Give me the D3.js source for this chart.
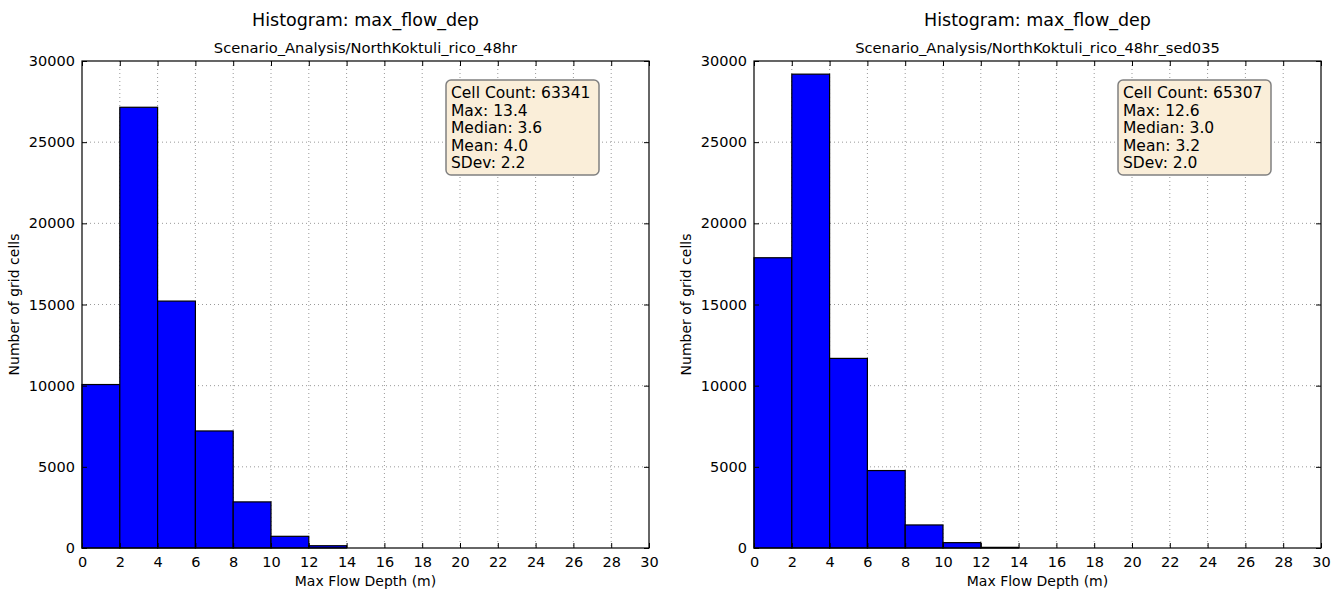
<!DOCTYPE html>
<html>
<head>
<meta charset="utf-8">
<script src="https://cdn.jsdelivr.net/npm/d3@7"></script>
<style>
  body { margin: 0; background: #fff; }
  text { font-family: "DejaVu Sans", sans-serif; fill: #000; }
</style>
</head>
<body>
<div id="chart"></div>
<script>
// histogram bins (m) and counts
var binEdges = [0, 2, 4, 6, 8, 10, 12, 14];
var countsLeft = [10070, 27150, 15210, 7210, 2840, 720, 140];
var countsRight = [17880, 29190, 11680, 4770, 1420, 330, 40];

var xTicks = [0, 2, 4, 6, 8, 10, 12, 14, 16, 18, 20, 22, 24, 26, 28, 30];
var yTicks = [0, 5000, 10000, 15000, 20000, 25000, 30000];

var titles = ["Histogram: max_flow_dep", "Histogram: max_flow_dep"];
var subtitles = ["Scenario_Analysis/NorthKoktuli_rico_48hr", "Scenario_Analysis/NorthKoktuli_rico_48hr_sed035"];
var statsLeft = ["Cell Count: 63341", "Max: 13.4", "Median: 3.6", "Mean: 4.0", "SDev: 2.2"];
var statsRight = ["Cell Count: 65307", "Max: 12.6", "Median: 3.0", "Mean: 3.2", "SDev: 2.0"];

var width = 1340,
    height = 591;

var svg = d3.select("#chart")
    .append("svg")
    .attr("width", width)
    .attr("height", height)

var plotTop = 61, plotBottom = 548;

function drawPanel(left, right, counts, title, subtitle, stats) {
    var x = d3.scaleLinear().domain([0, 30]).range([left, right])
    var y = d3.scaleLinear().domain([0, 30000]).range([plotBottom, plotTop])

    var g = svg.append("g")

    // dotted grid
    g.selectAll(".gx")
        .data(xTicks.slice(1, -1))
        .enter().append("line")
        .attr("x1", function(d) { return x(d) })
        .attr("x2", function(d) { return x(d) })
        .attr("y1", plotTop)
        .attr("y2", plotBottom)
        .attr("stroke", "#999")
        .attr("stroke-width", 1)
        .attr("stroke-dasharray", "1,3")

    g.selectAll(".gy")
        .data(yTicks.slice(1, -1))
        .enter().append("line")
        .attr("x1", left)
        .attr("x2", right)
        .attr("y1", function(d) { return y(d) })
        .attr("y2", function(d) { return y(d) })
        .attr("stroke", "#999")
        .attr("stroke-width", 1)
        .attr("stroke-dasharray", "1,3")

    // bars
    g.selectAll(".bar")
        .data(counts)
        .enter().append("rect")
        .attr("x", function(d, i) { return x(binEdges[i]) })
        .attr("width", function(d, i) { return x(binEdges[i + 1]) - x(binEdges[i]) })
        .attr("y", function(d) { return y(d) })
        .attr("height", function(d) { return plotBottom - y(d) })
        .attr("fill", "#0000ff")
        .attr("stroke", "#000")
        .attr("stroke-width", 1.2)

    // axes, ticks pointing inward like matplotlib classic
    g.append("g").attr("transform", "translate(0," + plotBottom + ")")
        .call(d3.axisBottom(x).tickValues(xTicks).tickSizeInner(-5).tickSizeOuter(0).tickPadding(9))
    g.append("g").attr("transform", "translate(0," + plotTop + ")")
        .call(d3.axisTop(x).tickValues(xTicks).tickSizeInner(-5).tickSizeOuter(0).tickFormat(""))
    g.append("g").attr("transform", "translate(" + left + ",0)")
        .call(d3.axisLeft(y).tickValues(yTicks).tickSizeInner(-5).tickSizeOuter(0).tickPadding(7).tickFormat(d3.format("d")))
    g.append("g").attr("transform", "translate(" + right + ",0)")
        .call(d3.axisRight(y).tickValues(yTicks).tickSizeInner(-5).tickSizeOuter(0).tickFormat(""))

    g.selectAll(".domain").remove()
    g.selectAll(".tick line").attr("stroke", "#000")
    g.selectAll(".tick text")
        .style("font-family", "DejaVu Sans")
        .style("font-size", "14.5px")
        .attr("fill", "#000")

    g.append("rect")
        .attr("x", left)
        .attr("y", plotTop)
        .attr("width", right - left)
        .attr("height", plotBottom - plotTop)
        .attr("fill", "none")
        .attr("stroke", "#000")
        .attr("stroke-width", 1.2)

    var mid = (left + right) / 2

    g.append("text")
        .attr("x", mid)
        .attr("y", 26)
        .attr("text-anchor", "middle")
        .style("font-size", "17.5px")
        .text(title)

    g.append("text")
        .attr("x", mid)
        .attr("y", 53)
        .attr("text-anchor", "middle")
        .style("font-size", "14.7px")
        .text(subtitle)

    g.append("text")
        .attr("x", mid)
        .attr("y", 586)
        .attr("text-anchor", "middle")
        .style("font-size", "14px")
        .text("Max Flow Depth (m)")

    g.append("text")
        .attr("transform", "translate(" + (left - 63) + "," + ((plotTop + plotBottom) / 2) + ") rotate(-90)")
        .attr("text-anchor", "middle")
        .style("font-size", "14px")
        .text("Number of grid cells")

    // stats box
    var bx = left + 364, by = 80
    g.append("rect")
        .attr("x", bx)
        .attr("y", by)
        .attr("width", 153)
        .attr("height", 95)
        .attr("rx", 5)
        .attr("fill", "#faeed9")
        .attr("stroke", "#808080")
        .attr("stroke-width", 1.5)

    g.selectAll(".stat")
        .data(stats)
        .enter().append("text")
        .attr("x", bx + 5)
        .attr("y", function(d, i) { return by + 18 + i * 17.5 })
        .style("font-size", "15.5px")
        .text(function(d) { return d })
}

drawPanel(82, 649, countsLeft, titles[0], subtitles[0], statsLeft)
drawPanel(754, 1321, countsRight, titles[1], subtitles[1], statsRight)
</script>
</body>
</html>
